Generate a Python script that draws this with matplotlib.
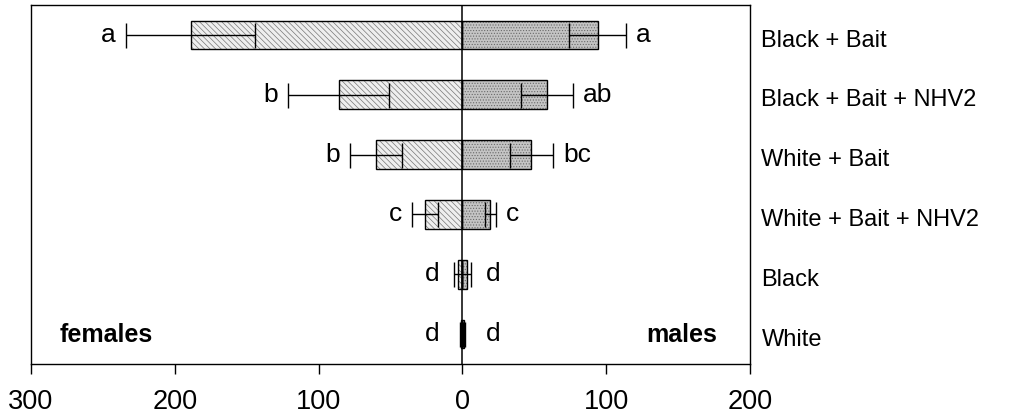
import matplotlib
matplotlib.use("Agg")
import matplotlib.pyplot as plt
import matplotlib.transforms as mtransforms
from matplotlib.ticker import FuncFormatter
import numpy as np

plt.rcParams.update({
    "font.family": ["Liberation Sans", "DejaVu Sans"],
    "hatch.linewidth": 0.5,
})

# ── data ──
categories = ["Black + Bait", "Black + Bait + NHV2", "White + Bait",
              "White + Bait + NHV2", "Black", "White"]
female_mean = [189, 86, 60, 26, 3, 1]
female_err = [45, 35, 18, 9, 3, 0.6]
male_mean = [94, 59, 48, 19.5, 3, 1]
male_err = [20, 18, 15, 4, 3, 0.6]
female_letters = ["a", "b", "b", "c", "d", "d"]
male_letters = ["a", "ab", "bc", "c", "d", "d"]
xticks = [-300, -200, -100, 0, 100, 200]

fig = plt.figure(figsize=(10.14, 4.2), dpi=100)
ax = fig.add_axes([0.0306, 0.1333, 0.7090, 0.8547])

y = np.arange(len(categories))
fm = -np.array(female_mean, dtype=float)
mm = np.array(male_mean, dtype=float)
h = 0.48

# females: light grey, fine diagonal hatching
ax.barh(y, fm, h, color="#eeeeee", hatch="\\\\\\\\\\\\", edgecolor="#777777", linewidth=0, zorder=2)
ax.barh(y, fm, h, fill=False, edgecolor="black", linewidth=1, zorder=3)
# males: stippled darker grey
ax.barh(y, mm, h, color="#c4c4c4", hatch="......", edgecolor="#6a6a6a", linewidth=0, zorder=2)
ax.barh(y, mm, h, fill=False, edgecolor="black", linewidth=1, zorder=3)

ax.errorbar(fm, y, xerr=female_err, fmt="none", ecolor="black",
            elinewidth=1, capsize=9, capthick=1, zorder=4)
ax.errorbar(mm, y, xerr=male_err, fmt="none", ecolor="black",
            elinewidth=1, capsize=9, capthick=1, zorder=4)

ax.axvline(0, color="black", linewidth=1.1, zorder=5)

# significance letters
for i in range(len(categories)):
    fx = max(female_mean[i] + female_err[i] + 7, 16)
    mx = max(male_mean[i] + male_err[i] + 7, 16)
    ax.text(-fx, y[i], female_letters[i], ha="right", va="center", fontsize=19)
    ax.text(mx, y[i], male_letters[i], ha="left", va="center", fontsize=19)

# category labels to the right of the axes
trans = mtransforms.blended_transform_factory(ax.transAxes, ax.transData)
for i, c in enumerate(categories):
    ax.annotate(c, (1.016, y[i]), xycoords=trans, xytext=(0, -4),
                textcoords="offset points", ha="left", va="center",
                fontsize=17, annotation_clip=False)

ax.annotate("females", (0.04, y[-1]), xycoords=trans, xytext=(0, -1),
            textcoords="offset points", ha="left", va="center",
            fontsize=18, fontweight="bold")
ax.annotate("males", (0.954, y[-1]), xycoords=trans, xytext=(0, -1),
            textcoords="offset points", ha="right", va="center",
            fontsize=18, fontweight="bold")

ax.set_xlim(-300, 200)
ax.set_ylim(len(categories) - 0.5, -0.5)
ax.set_yticks([])
ax.set_xticks(xticks)
ax.xaxis.set_major_formatter(FuncFormatter(lambda v, p: f"{abs(v):.0f}"))
ax.tick_params(axis="x", direction="out", length=7, width=1, pad=11, labelsize=19.5)
for s in ax.spines.values():
    s.set_linewidth(1)

fig.savefig("out.png", dpi=100)
